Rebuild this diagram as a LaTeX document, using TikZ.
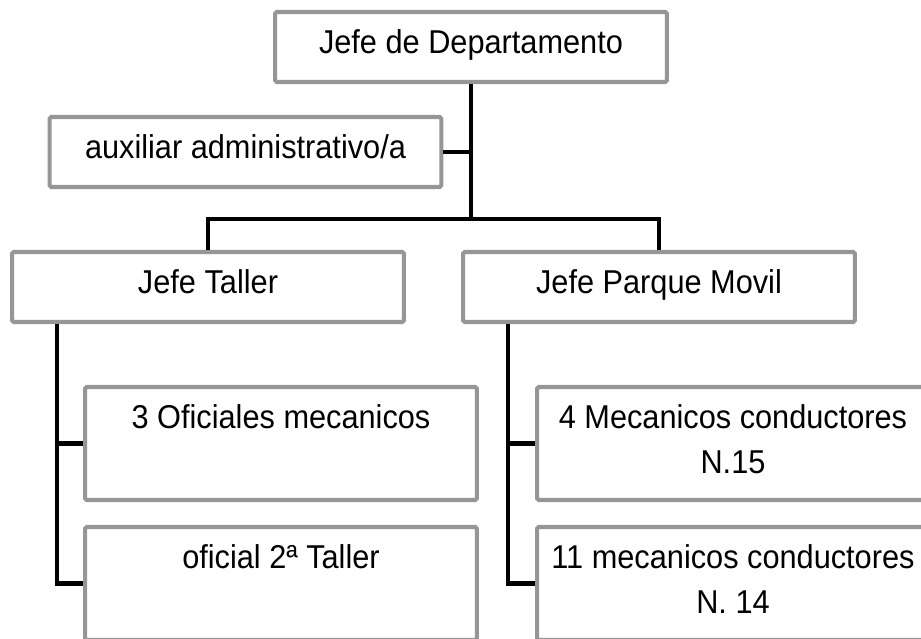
\documentclass[tikz,border=0pt]{standalone}
\usepackage{fontspec}
\setmainfont{Liberation Sans}[FakeStretch=0.93]
\definecolor{boxgray}{RGB}{150,150,150}
\newcommand{\subtext}[1]{\parbox[c][2.2cm][t]{7.8cm}{\centering\vspace*{0.32cm}#1}}
\begin{document}
\begin{tikzpicture}[x=0.02cm, y=-0.02cm, line width=2.3pt]
\clip (0,0) rectangle (921,639);
\tikzstyle{every node} = [draw=boxgray, rounded corners=1pt, fill=white, inner sep=0pt, minimum width=7.84cm, minimum height=1.4cm, text height=0.92em, text depth=0.2em, font=\fontsize{18.8}{25.6}\selectfont]
\node (dept) at (471,47) {Jefe de Departamento};
\node (aux) at (245.5,152) {auxiliar administrativo/a};
\node (taller) at (208,287) {Jefe Taller};
\node (parque) at (659,287) {Jefe Parque Movil};
\tikzstyle{every node} = [draw=boxgray, rounded corners=1pt, fill=white, inner sep=0pt, minimum width=7.84cm, minimum height=2.26cm, font=\fontsize{18.8}{25.6}\selectfont]
\node (of1) at (281,443.5) {\subtext{3 Oficiales mecanicos}};
\node (of2) at (281,583.5) {\subtext{oficial 2ª Taller}};
\node (mc1) at (733,443.5) {\subtext{4 Mecanicos conductores\\N.15}};
\node (mc2) at (733,583.5) {\subtext{11 mecanicos conductores\\N. 14}};
\coordinate (j) at (471,219);
\coordinate (ta) at (57,324);
\coordinate (pa) at (508,324);
\draw (dept) -- (j);
\draw (aux.east) -- (aux.east -| j);
\draw (taller) |- (j) -| (parque);
\draw (ta) |- (of1.west);
\draw (ta) |- (of2.west);
\draw (pa) |- (mc1.west);
\draw (pa) |- (mc2.west);
\end{tikzpicture}
\end{document}
